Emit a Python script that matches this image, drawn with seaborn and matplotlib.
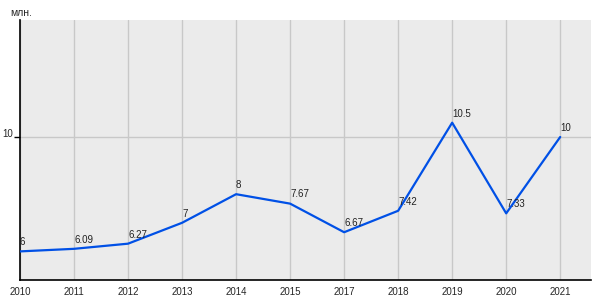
import matplotlib
matplotlib.use("Agg")
import matplotlib.pyplot as plt
import seaborn as sns
import pandas as pd

years = ["2010", "2011", "2012", "2013", "2014", "2015", "2017", "2018", "2019", "2020", "2021"]
values = [6, 6.09, 6.27, 7, 8, 7.67, 6.67, 7.42, 10.5, 7.33, 10]
labels = ["6", "6.09", "6.27", "7", "8", "7.67", "6.67", "7.42", "10.5", "7.33", "10"]
y_ticks = [10]
unit_label = "млн."

sns.set_style("white")
plt.rcParams['font.family'] = ['Liberation Sans', 'DejaVu Sans']

df = pd.DataFrame({"year": years, "value": values})

fig = plt.figure(figsize=(6, 3), dpi=100)
ax = fig.add_axes([20/600, 20/300, (591-20)/600, (280-20)/300])
ax.set_facecolor("#ebebeb")

sns.lineplot(data=df, x="year", y="value", ax=ax, sort=False,
             color="#0050e6", linewidth=1.6, zorder=3)

for i, (v, t) in enumerate(zip(values, labels)):
    ax.annotate(t, (i, v), xytext=(0, 3), textcoords="offset points",
                ha="left", va="bottom", fontsize=7, color="#222222", zorder=4)

ax.set_xlim(0, 10.57)
ax.set_ylim(5.0, 14.09)
ax.set_yticks(y_ticks)
ax.set_yticklabels([str(t) for t in y_ticks], fontsize=7, va="baseline")
ax.set_xticks(range(len(years)))
ax.set_xticklabels(years, fontsize=7)
ax.grid(True, color="#c8c8c8", linewidth=1, zorder=0)
ax.set_axisbelow(True)
ax.tick_params(axis="x", length=0, pad=5)
ax.tick_params(axis="y", length=4, width=1, color="black", pad=1, left=True)
for s in ["top", "right"]:
    ax.spines[s].set_visible(False)
for s in ["left", "bottom"]:
    ax.spines[s].set_color("black")
    ax.spines[s].set_linewidth(1.2)
ax.set_xlabel("")
ax.set_ylabel("")
fig.text(10/600, 1 - 12.5/300, unit_label, fontsize=7.5, va="center", ha="left")

fig.savefig("out.png", dpi=100)
